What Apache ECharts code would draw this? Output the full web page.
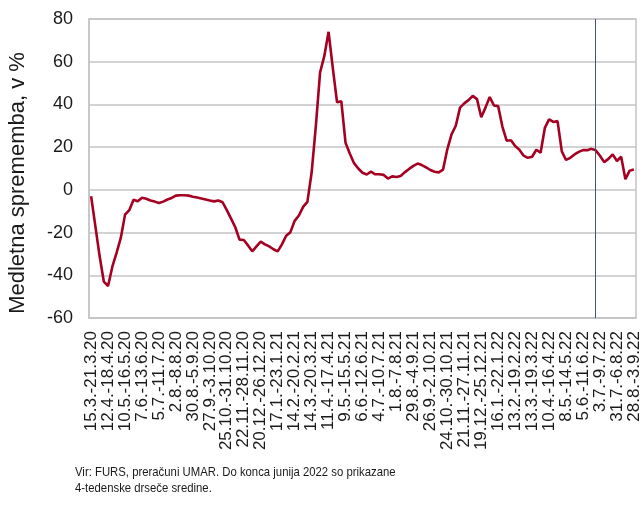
<!DOCTYPE html>
<html>
<head>
<meta charset="utf-8">
<script src="https://cdn.jsdelivr.net/npm/echarts@6/dist/echarts.min.js"></script>
<style>
  html, body { margin: 0; padding: 0; background: #fff; }
  #chart { width: 643px; height: 510px; }
</style>
</head>
<body>
<div id="chart"></div>
<script>
// weekly windows, first one starts 15.3.2020
var firstWeek = Date.UTC(2020, 2, 15);
var weekCount = 129;

// yearly change of the 4-week moving average, in %
var values = [
  -3, -17, -31, -43, -45, -36, -29.5, -22.5, -11.6, -9.5,
  -4.6, -5.3, -3.7, -4.2, -5, -5.5, -6.2, -5.5, -4.5, -3.8,
  -2.7, -2.5, -2.5, -2.7, -3.2, -3.6, -4, -4.5, -5, -5.4,
  -5, -5.8, -9.5, -13.5, -17.5, -23.3, -23.5, -26, -28.8, -26.5,
  -24.2, -25.5, -26.5, -27.8, -28.8, -25.5, -21.5, -19.8, -14.5, -12,
  -8, -5.6, 8, 30, 55, 62.7, 74, 57, 41, 41.5,
  22, 17, 12.5, 10, 8, 7.2, 8.5, 7.3, 7.3, 7,
  5.3, 6.3, 6, 6.5, 8.3, 9.8, 11.2, 12.3, 11.6, 10.5,
  9.3, 8.5, 8.2, 9.5, 19, 26, 30, 38.5, 40.5, 42,
  44, 42.5, 34, 38.5, 43.5, 39.5, 39.2, 29.5, 23, 23.2,
  20.5, 18.8, 16, 15, 15.5, 18.8, 17.4, 29, 33, 31.8,
  32.2, 18, 14, 15, 16.6, 17.8, 18.6, 18.6, 19.2, 18.5,
  16, 13, 14.5, 16.6, 13.5, 15.5, 5, 9, 9.5
];

var yTicks = { min: -60, max: 80, step: 20 };
var cutoffWeek = 119; // end of June 2022

function dm(d) {
  return d.getUTCDate() + '.' + (d.getUTCMonth() + 1) + '.';
}

var weeks = [];
for (var i = 0; i < weekCount; i++) {
  var s = new Date(firstWeek + i * 7 * 86400000);
  var e = new Date(firstWeek + (i * 7 + 6) * 86400000);
  weeks.push(dm(s) + '-' + dm(e) + String(e.getUTCFullYear()).slice(2));
}

var font = 'Liberation Sans';
var chart = echarts.init(document.getElementById('chart'));

chart.setOption({
  animation: false,
  textStyle: { fontFamily: font },
  graphic: [{
    type: 'text',
    x: 18,
    y: 183,
    rotation: Math.PI / 2,
    style: {
      text: 'Medletna sprememba, v %',
      align: 'center',
      verticalAlign: 'middle',
      fontFamily: font,
      fontSize: 22,
      fill: '#1a1a1a'
    }
  }, {
    // source note, squeezed a bit like the original condensed face
    type: 'text',
    x: 75,
    y: 464,
    scaleX: 0.84,
    style: {
      text: 'Vir: FURS, preračuni UMAR. Do konca junija 2022 so prikazane\n4-tedenske drseče sredine.',
      fontFamily: font,
      fontSize: 13.5,
      lineHeight: 16,
      fill: '#1a1a1a'
    }
  }],
  grid: {
    left: 89,
    right: 7,
    top: 19,
    bottom: 192,
    show: true,
    borderColor: '#c4c4c4',
    borderWidth: 1.5
  },
  xAxis: {
    type: 'category',
    data: weeks,
    boundaryGap: true,
    axisLine: { onZero: false, lineStyle: { color: '#c4c4c4', width: 1.5 } },
    axisTick: { show: false },
    axisLabel: {
      interval: 3,
      rotate: 90,
      margin: 13,
      fontSize: 17,
      color: '#1a1a1a',
      fontFamily: font
    }
  },
  yAxis: {
    type: 'value',
    min: yTicks.min,
    max: yTicks.max,
    interval: yTicks.step,
    axisLine: { show: true, lineStyle: { color: '#c4c4c4', width: 1.5 } },
    axisTick: { show: false },
    axisLabel: { fontSize: 18, color: '#1a1a1a', margin: 16, fontFamily: font },
    splitLine: { lineStyle: { color: '#c4c4c4', width: 1.5 } }
  },
  series: [{
    type: 'line',
    data: values,
    showSymbol: false,
    lineStyle: { color: '#a50021', width: 2.6 },
    itemStyle: { color: '#a50021' },
    markLine: {
      silent: true,
      symbol: 'none',
      label: { show: false },
      lineStyle: { color: '#44546a', width: 1, type: 'solid' },
      data: [{ xAxis: cutoffWeek }]
    }
  }]
});
</script>
</body>
</html>
